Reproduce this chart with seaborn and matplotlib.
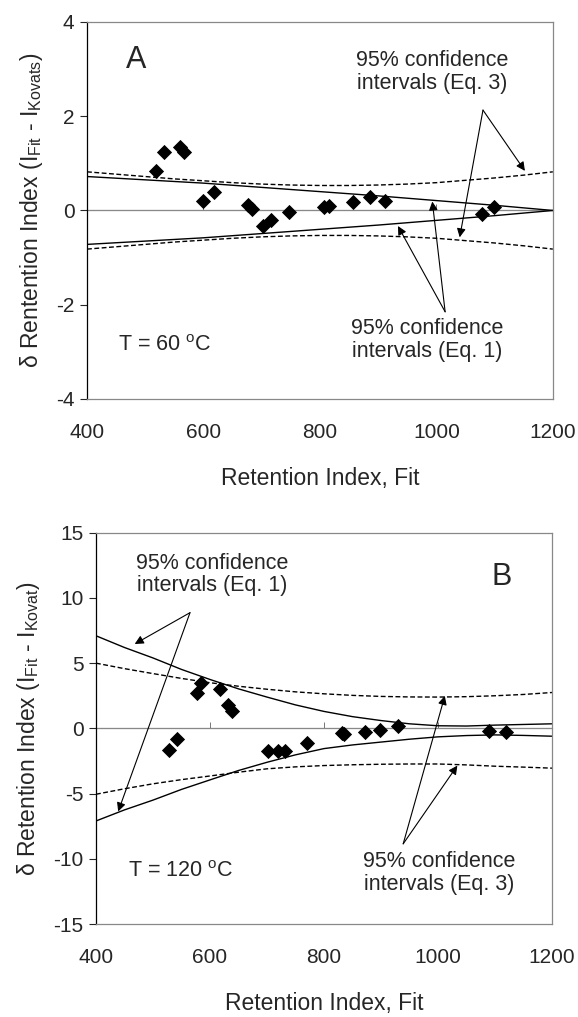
import matplotlib
matplotlib.use("Agg")
import matplotlib.pyplot as plt
import seaborn as sns

# ---- panel A (T = 60 C) ----
a_x = [518, 532, 560, 567, 600, 618, 676, 683, 702, 716, 747, 807, 815, 857, 886, 912, 1079, 1099]
a_y = [0.84, 1.24, 1.35, 1.25, 0.21, 0.39, 0.12, 0.03, -0.34, -0.2, -0.03, 0.08, 0.09, 0.19, 0.28, 0.21, -0.08, 0.08]

curve_x = [400, 450, 500, 550, 600, 650, 700, 750, 800, 850, 900, 950, 1000, 1050, 1100, 1150, 1200]
a_eq1_hi = [0.72, 0.685, 0.65, 0.615, 0.58, 0.535, 0.49, 0.445, 0.40, 0.355, 0.31, 0.26, 0.21, 0.16, 0.11, 0.055, 0.0]
a_eq1_lo = [-v for v in a_eq1_hi]
a_eq3_hi = [0.82, 0.77, 0.72, 0.67, 0.63, 0.59, 0.56, 0.54, 0.53, 0.53, 0.54, 0.56, 0.59, 0.64, 0.69, 0.75, 0.82]
a_eq3_lo = [-v for v in a_eq3_hi]

# ---- panel B (T = 120 C) ----
b_x = [529, 543, 578, 585, 618, 632, 638, 701, 719, 732, 770, 831, 835, 872, 898, 929, 1089, 1119]
b_y = [-1.65, -0.83, 2.7, 3.46, 3.0, 1.8, 1.37, -1.7, -1.7, -1.7, -1.14, -0.37, -0.45, -0.24, -0.11, 0.22, -0.17, -0.27]

b_eq1_hi = [7.1, 6.2, 5.4, 4.52, 3.75, 3.03, 2.4, 1.8, 1.3, 0.9, 0.6, 0.35, 0.2, 0.18, 0.25, 0.3, 0.35]
b_eq1_lo = [-7.1, -6.25, -5.5, -4.68, -3.95, -3.23, -2.6, -2.03, -1.55, -1.27, -1.05, -0.83, -0.65, -0.55, -0.5, -0.54, -0.6]
b_eq3_hi = [5.0, 4.58, 4.2, 3.83, 3.5, 3.23, 3.0, 2.8, 2.65, 2.53, 2.45, 2.41, 2.4, 2.43, 2.5, 2.6, 2.75]
b_eq3_lo = [-5.05, -4.63, -4.25, -3.93, -3.65, -3.36, -3.1, -2.95, -2.85, -2.79, -2.75, -2.73, -2.73, -2.8, -2.9, -2.97, -3.05]

x_ticks = [400, 600, 800, 1000, 1200]
a_ticks = [-4, -2, 0, 2, 4]
b_ticks = [-15, -10, -5, 0, 5, 10, 15]

sns.set_style("white")
plt.rcParams['font.family'] = ['Liberation Sans', 'DejaVu Sans']
plt.rcParams['mathtext.fontset'] = 'custom'
plt.rcParams['mathtext.rm'] = 'Liberation Sans'
plt.rcParams['axes.unicode_minus'] = False

fig = plt.figure(figsize=(5.78, 10.17), dpi=100)
axA = fig.add_axes([0.1505, 0.6077, 0.806, 0.3707])
axB = fig.add_axes([0.166, 0.0914, 0.789, 0.3848])

dash = (0, (3.5, 1.8))
arrow = dict(arrowstyle='-|>', color='black', lw=0.8, mutation_scale=13, shrinkA=0, shrinkB=0)


def setup(ax, pts_x, pts_y, hi1, lo1, hi3, lo3, ticks, ylab):
    ax.axhline(0, color='#888888', lw=0.8, zorder=1)
    sec = ax.secondary_xaxis(0.5)
    sec.set_xticks([600, 800, 1000])
    sec.set_xticklabels([])
    sec.tick_params(direction='out', length=4, width=0.7, color='#777777')
    sec.spines['bottom'].set_visible(False)
    for hi, lo, style in [(hi1, lo1, '-'), (hi3, lo3, dash)]:
        for ys in (hi, lo):
            sns.lineplot(x=curve_x, y=ys, ax=ax, color='black', lw=1.0,
                         linestyle=style, sort=False, zorder=2)
    sns.scatterplot(x=pts_x, y=pts_y, ax=ax, marker='D', s=60, color='black',
                    edgecolor='black', linewidth=0, zorder=3)
    ax.set_xlim(400, 1200)
    ax.set_ylim(ticks[0], ticks[-1])
    ax.set_xticks(x_ticks)
    ax.set_yticks(ticks)
    ax.tick_params(axis='x', length=0, pad=17, labelsize=15)
    ax.tick_params(axis='y', direction='out', left=True, length=5, width=0.8, pad=4, labelsize=15)
    for side in ['top', 'right', 'bottom']:
        ax.spines[side].set_color('#888888')
        ax.spines[side].set_linewidth(0.9)
    ax.spines['left'].set_color('black')
    ax.spines['left'].set_linewidth(0.9)
    ax.set_xlabel("Retention Index, Fit", fontsize=16.5, labelpad=18)
    ax.set_ylabel(ylab, fontsize=16.5, labelpad=8)


setup(axA, a_x, a_y, a_eq1_hi, a_eq1_lo, a_eq3_hi, a_eq3_lo, a_ticks,
      r"δ Rentention Index (I$_{\mathregular{Fit}}$ - I$_{\mathregular{Kovats}}$)")
setup(axB, b_x, b_y, b_eq1_hi, b_eq1_lo, b_eq3_hi, b_eq3_lo, b_ticks,
      r"δ Retention Index (I$_{\mathregular{Fit}}$ - I$_{\mathregular{Kovat}}$)")

# panel A annotations
axA.text(485, 3.2, "A", fontsize=22, ha='center', va='center')
axA.text(454, -2.86, r"T = 60 $^{\mathregular{o}}$C", fontsize=15.5, ha='left', va='center')
axA.text(992, 2.94, "95% confidence\nintervals (Eq. 3)", fontsize=15.5, ha='center', va='center',
         linespacing=1.1)
axA.annotate("", xy=(1152, 0.84), xytext=(1080, 2.13), arrowprops=arrow)
axA.annotate("", xy=(1040, -0.57), xytext=(1080, 2.13), arrowprops=arrow)
axA.text(985, -2.75, "95% confidence\nintervals (Eq. 1)", fontsize=15.5, ha='center', va='center',
         linespacing=1.1)
axA.annotate("", xy=(993, 0.19), xytext=(1015, -2.15), arrowprops=arrow)
axA.annotate("", xy=(934, -0.33), xytext=(1015, -2.15), arrowprops=arrow)

# panel B annotations
axB.text(1112, 11.6, "B", fontsize=22, ha='center', va='center')
axB.text(457, -10.97, r"T = 120 $^{\mathregular{o}}$C", fontsize=15.5, ha='left', va='center')
axB.text(604, 11.8, "95% confidence\nintervals (Eq. 1)", fontsize=15.5, ha='center', va='center',
         linespacing=1.1)
axB.annotate("", xy=(468, 6.47), xytext=(565, 8.87), arrowprops=arrow)
axB.annotate("", xy=(439, -6.37), xytext=(565, 8.87), arrowprops=arrow)
axB.text(1002, -11.07, "95% confidence\nintervals (Eq. 3)", fontsize=15.5, ha='center', va='center',
         linespacing=1.1)
axB.annotate("", xy=(1012, 2.49), xytext=(939, -8.85), arrowprops=arrow)
axB.annotate("", xy=(1034, -2.85), xytext=(939, -8.85), arrowprops=arrow)

fig.savefig("out.png", dpi=100)
